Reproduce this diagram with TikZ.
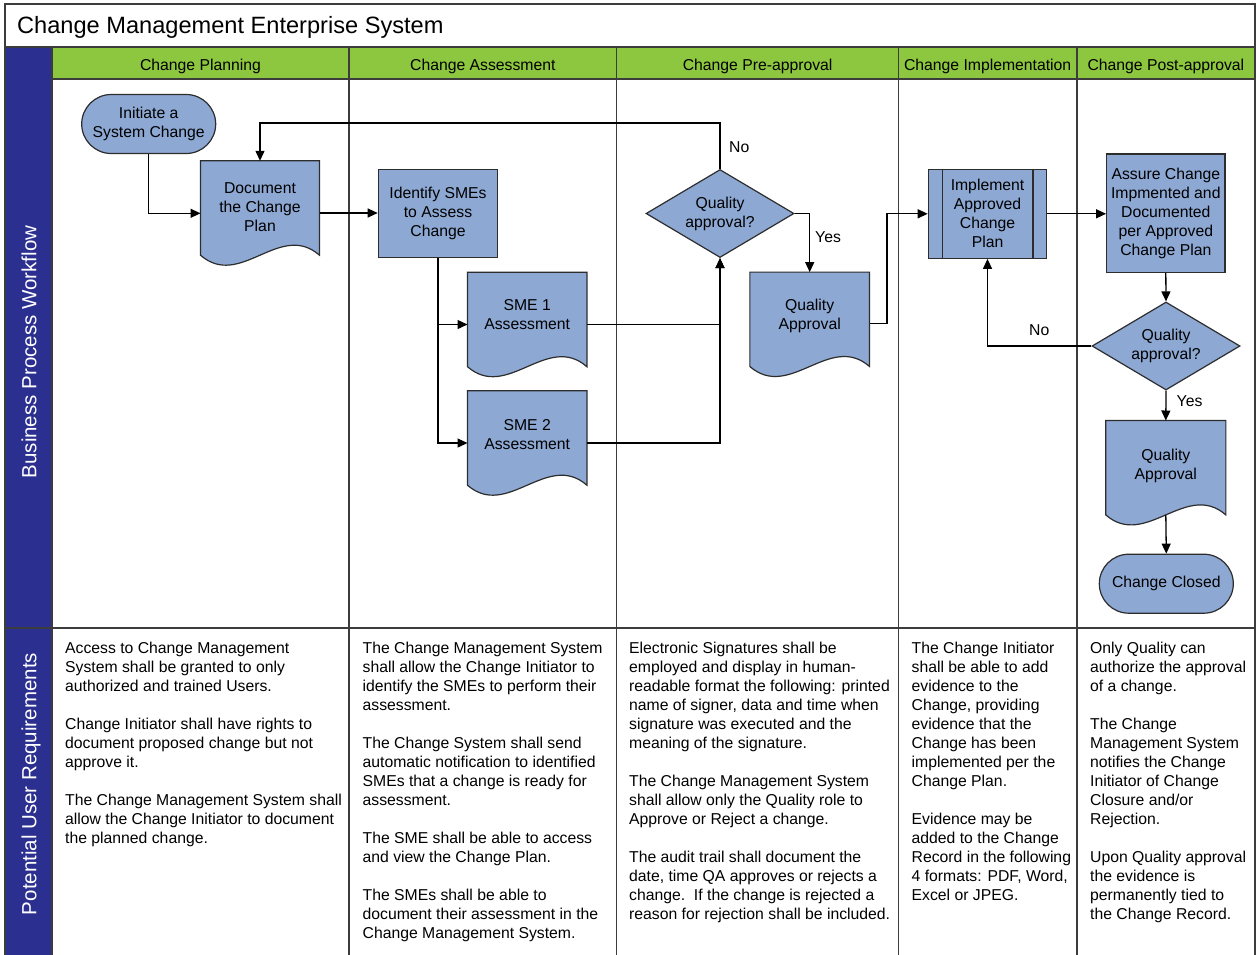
\documentclass[tikz,border=0pt]{standalone}
\usepackage{fontspec}
\setmainfont{Liberation Sans}
\usetikzlibrary{shapes.geometric,shapes.misc,arrows.meta}
\definecolor{shapefill}{RGB}{141,168,211}
\definecolor{lanegreen}{RGB}{141,198,63}
\definecolor{laneblue}{RGB}{43,47,143}
\definecolor{edgegray}{RGB}{45,45,45}
\definecolor{lanegray}{RGB}{60,60,60}
\pgfdeclarelayer{lanes}
\pgfdeclarelayer{shapes}
\pgfsetlayers{lanes,shapes,main}

% wavy-bottom document outline around a named node
\newcommand\docoutline[1]{%
  \begin{pgfonlayer}{shapes}
    \filldraw[fill=shapefill,draw=edgegray,line width=1.2pt,line join=miter]
      (#1.north west) -- (#1.north east) -- ([yshift=10pt]#1.south east)
      .. controls +(-39.7,-34.6) and +(39.7,34.6) .. ([yshift=10pt]#1.south west) -- cycle;
  \end{pgfonlayer}}

\begin{document}
\begin{tikzpicture}[x=1pt,y=-1pt,
  txt/.style={font=\fontsize{15.75}{19}\selectfont,align=center,inner sep=0pt},
  procbox/.style={txt,rectangle,draw=edgegray,fill=shapefill,line width=1.2pt},
  terminal/.style={txt,rounded rectangle,draw=edgegray,fill=shapefill,line width=1.2pt,
    minimum width=134pt,minimum height=59pt},
  decision/.style={txt,diamond,aspect=1.7,draw=edgegray,fill=shapefill,line width=1.2pt,
    minimum width=148pt,minimum height=88pt},
  docbox/.style={rectangle,inner sep=0pt,minimum width=119pt,minimum height=104pt},
  doctext/.style={txt},
  flow/.style={draw=black,line width=1.3pt,-{Triangle[length=10pt,width=9pt]}},
  plain/.style={draw=black,line width=1.3pt},
  branch/.style={txt,anchor=west,text height=11pt,text depth=3pt},
  lane/.style={draw=lanegray,line width=1.4pt},
  hdr/.style={font=\fontsize{15.75}{19}\selectfont,anchor=base,inner sep=0pt},
  side/.style={font=\fontsize{20.5}{24}\selectfont,text=white,rotate=90,anchor=base,inner sep=0pt},
  req/.style={font=\fontsize{15.75}{19}\selectfont,align=left,anchor=north west,inner sep=0pt}
]
\useasboundingbox (0,0) rectangle (1257,954);

% ---------- swimlane frame ----------
\begin{pgfonlayer}{lanes}
  \fill[white] (0,0) rectangle (1257,954);
  \fill[lanegreen] (52,47) rectangle (1255,79);
  \fill[laneblue] (5,47) rectangle (52,960);
  \draw[lane] (5,4) rectangle (1255,960);
  \draw[lane] (5,47) -- (1255,47);
  \draw[lane] (52,79) -- (1255,79);
  \draw[lane] (5,628) -- (1255,628);
  \draw[lane] (52,47) -- (52,960);
  \foreach \cx in {349,616.7,898.5,1076.8}
    \draw[lane] (\cx,47) -- (\cx,960);
\end{pgfonlayer}

\node[font=\fontsize{23.6}{28}\selectfont,anchor=base west,inner sep=0pt] (title) at (17,33.4)
  {Change Management Enterprise System};

\node[hdr] (h1) at (200.5,70.6) {Change Planning};
\node[hdr] (h2) at (482.8,70.6) {Change Assessment};
\node[hdr] (h3) at (757.6,70.6) {Change Pre-approval};
\node[hdr] (h4) at (987.6,70.6) {Change Implementation};
\node[hdr] (h5) at (1165.9,70.6) {Change Post-approval};

\node[side] (s1) at (36.4,352) {Business Process Workflow};
\node[side] (s2) at (36.4,784) {Potential User Requirements};

% ---------- workflow shapes ----------
\node[terminal] (init) at (148.7,124) {Initiate a\\System Change};

\node[docbox,minimum width=118.6pt] (docplan) at (260,213) {};
\docoutline{docplan}
\node[doctext] (docplant) at (260,207) {Document\\the Change\\Plan};

\node[procbox,minimum width=119.4pt,minimum height=88pt] (ident) at (438,213.3)
  {Identify SMEs\\to Assess\\Change};

\node[docbox] (sme1) at (527.2,324.5) {};
\docoutline{sme1}
\node[doctext] (sme1t) at (527.2,315) {SME 1\\Assessment};

\node[docbox] (sme2) at (527.2,443) {};
\docoutline{sme2}
\node[doctext] (sme2t) at (527.2,434.3) {SME 2\\Assessment};

\node[decision] (d1) at (720,213.5) {Quality\\approval?};

\node[docbox,minimum width=119.3pt] (qa1) at (809.7,324.3) {};
\docoutline{qa1}
\node[doctext] (qa1t) at (809.7,315.5) {Quality\\Approval};

\node[procbox,minimum width=118.4pt,minimum height=89pt] (impl) at (987.5,213.8)
  {Implement\\Approved\\Change\\Plan};
\draw[draw=edgegray,line width=1.2pt]
  ([xshift=14.4pt]impl.north west) -- ([xshift=14.4pt]impl.south west)
  ([xshift=-14.4pt]impl.north east) -- ([xshift=-14.4pt]impl.south east);

\node[procbox,minimum width=118.3pt,minimum height=118.3pt] (assure) at (1165.8,213.2)
  {Assure Change\\Impmented and\\Documented\\per Approved\\Change Plan};

\node[decision] (d2) at (1166,346) {Quality\\approval?};

\node[docbox,minimum width=119.7pt] (qa2) at (1165.8,472.7) {};
\docoutline{qa2}
\node[doctext] (qa2t) at (1165.8,466) {Quality\\Approval};

\node[terminal] (closed) at (1166.3,583.7) {Change Closed};

% ---------- connectors ----------
\draw[flow] (init.south) |- (ident.west -| docplan.west);
\draw[flow] (docplan.east) -- (docplan.east -| ident.west);
\draw[flow] (ident.south) |- (sme1.west);
\draw[flow] (ident.south) |- (sme2.west);
\draw[flow] (sme1.east) -| (d1.south);
\draw[flow] (sme2.east) -| (d1.south);
\draw[flow] (d1.north) -- ++(0,-46) -| (docplan.north);
\draw[flow] (d1.east) -| (qa1.north);
\draw[flow] ([yshift=1pt]qa1.east) -- ++(17.5,0) |- (impl.west);
\draw[flow] (impl.east) -- (impl.east -| assure.west);
\draw[flow] (assure.south) -- (d2.north);
\draw[flow] (d2.west) -| (impl.south);
\draw[flow] (d2.south) -- (qa2.north);
\draw[flow] ([yshift=10pt]qa2.south) -- (closed.north);

\node[branch] (no1) at (729,148) {No};
\node[branch] (yes1) at (815,238) {Yes};
\node[branch] (no2) at (1029,331.7) {No};
\node[branch] (yes2) at (1176.5,402.7) {Yes};

% ---------- requirement notes ----------
\node[req] (r1) at (65,639.9) {\strut Access to Change Management\\
System shall be granted to only\\
authorized and trained Users.\\[19pt]
Change Initiator shall have rights to\\
document proposed change but not\\
approve it.\\[19pt]
The Change Management System shall\\
allow the Change Initiator to document\\
the planned change.};

\node[req] (r2) at (362.5,639.9) {\strut The Change Management System\\
shall allow the Change Initiator to\\
identify the SMEs to perform their\\
assessment.\\[19pt]
The Change System shall send\\
automatic notification to identified\\
SMEs that a change is ready for\\
assessment.\\[19pt]
The SME shall be able to access\\
and view the Change Plan.\\[19pt]
The SMEs shall be able to\\
document their assessment in the\\
Change Management System.};

\node[req] (r3) at (629,639.9) {\strut Electronic Signatures shall be\\
employed and display in human-\\
readable format the following: printed\\
name of signer, data and time when\\
signature was executed and the\\
meaning of the signature.\\[19pt]
The Change Management System\\
shall allow only the Quality role to\\
Approve or Reject a change.\\[19pt]
The audit trail shall document the\\
date, time QA approves or rejects a\\
change.\ \ If the change is rejected a\\
reason for rejection shall be included.};

\node[req] (r4) at (911.5,639.9) {\strut The Change Initiator\\
shall be able to add\\
evidence to the\\
Change, providing\\
evidence that the\\
Change has been\\
implemented per the\\
Change Plan.\\[19pt]
Evidence may be\\
added to the Change\\
Record in the following\\
4 formats: PDF, Word,\\
Excel or JPEG.};

\node[req] (r5) at (1090,639.9) {\strut Only Quality can\\
authorize the approval\\
of a change.\\[19pt]
The Change\\
Management System\\
notifies the Change\\
Initiator of Change\\
Closure and/or\\
Rejection.\\[19pt]
Upon Quality approval\\
the evidence is\\
permanently tied to\\
the Change Record.};
\end{tikzpicture}
\end{document}
